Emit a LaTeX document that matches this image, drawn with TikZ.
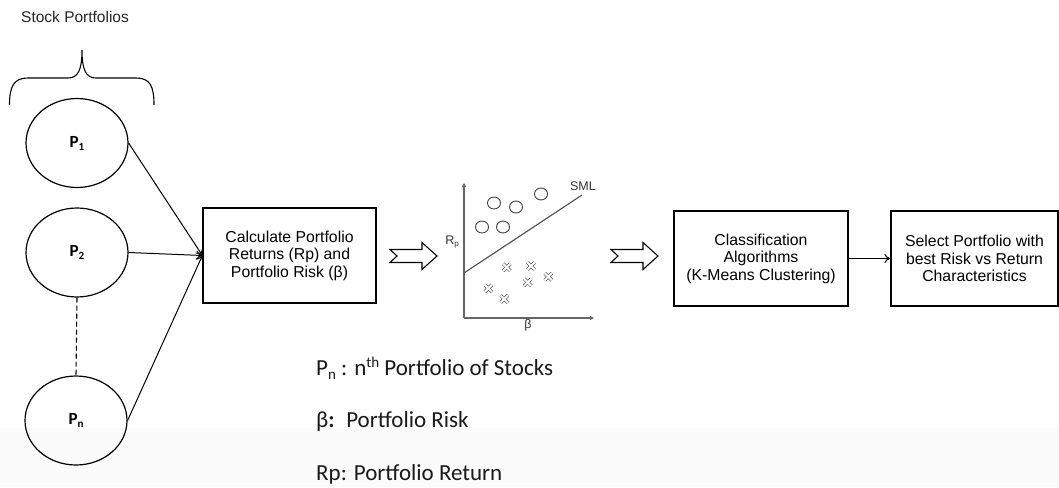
\documentclass[tikz,border=0pt]{standalone}
\usepackage{fontspec}
\setmainfont{Liberation Sans}
\newfontfamily\legendfont{Carlito}
\usetikzlibrary{shapes.geometric,arrows.meta}

\definecolor{bandgrey}{RGB}{251,251,251}

\tikzset{
  portfolio/.style={draw, ellipse, line width=1.2pt, inner sep=0pt,
    minimum width=102pt, minimum height=89pt,
    font=\legendfont\bfseries\fontsize{17}{17}\selectfont},
  stagebox/.style={draw, rectangle, line width=1.2pt, align=center,
    minimum height=95pt, font=\fontsize{15.8}{17.5}\selectfont},
  feed/.style={line width=1pt, -{To[length=6pt,width=9pt]}},
  axisline/.style={draw=black!60, line width=1.1pt,
    -{Triangle[length=4pt,width=4pt]}},
  hollowarrow/.pic={
    \draw[line width=1.1pt, line join=miter]
      (0,-6.5) -- (32,-6.5) -- (32,-13.5) -- (47,0) -- (32,13.5)
      -- (32,6.5) -- (0,6.5) -- (7,0) -- cycle;
  },
  crossmark/.pic={
    \draw[black!65, double=white, double distance=2pt, line width=0.7pt]
      (-3.6,-3.6) -- (3.6,3.6) (-3.6,3.6) -- (3.6,-3.6);
  },
  dot/.style={draw=black!75, ellipse, line width=0.9pt,
    minimum width=13pt, minimum height=12pt, inner sep=0pt},
  legend/.style={anchor=base west, inner sep=0pt,
    font=\legendfont\fontsize{23}{23}\selectfont, text=black!90},
}

\begin{document}
\begin{tikzpicture}[x=1pt, y=-1pt]
\useasboundingbox (0,0) rectangle (1059,487);
% faint grey band along the lower edge
\fill[bandgrey] (0,428) rectangle (1059,487);

% group heading and brace
\node[anchor=base west, inner sep=0pt, font=\fontsize{15.5}{18}\selectfont,
  text=black!85] (heading) at (21,22.7) {Stock Portfolios};
\draw[line width=1.1pt]
  (9.5,105) .. controls (9.5,86) and (14,78) .. (28,78) -- (68,78)
  .. controls (78,78) and (82,70) .. (82,50)
  .. controls (82,70) and (86,78) .. (96,78) -- (136,78)
  .. controls (150,78) and (154,86) .. (154,105);

% portfolios
\node[portfolio] (p1) at (77,143) {P\raisebox{-3pt}{\fontsize{11}{11}\selectfont 1}};
\node[portfolio] (p2) at (77,252.5) {P\raisebox{-3pt}{\fontsize{11}{11}\selectfont 2}};
\node[portfolio] (pn) at (76,420.5) {P\raisebox{-3pt}{\fontsize{11}{11}\selectfont n}};
\draw[line width=1.1pt, dash pattern=on 5pt off 3pt] (p2.south) -- (pn.north);

% processing stages
\node[stagebox, minimum width=173pt] (calc) at (289.5,255.5)
  {Calculate Portfolio\\Returns (Rp) and\\Portfolio Risk (β)};
\node[stagebox, minimum width=174pt] (classify) at (761,258.5)
  {Classification\\Algorithms\\(K-Means Clustering)};
\node[stagebox, minimum width=167pt] (select) at (974.5,258.5)
  {Select Portfolio with\\best Risk vs Return\\Characteristics};

\draw[feed] (p1.east) -- (calc.west);
\draw[feed] (p2.east) -- (calc.west);
\draw[feed] (pn.east) -- (calc.west);
\draw[feed] (classify.east) -- (select.west);

% hollow block arrows
\pic at (390,256) {hollowarrow};
\pic at (611,256) {hollowarrow};

% risk-return chart
\coordinate (origin) at (464,318);
\coordinate (ytop) at (464,183);
\coordinate (xend) at (594,318);
\coordinate (smlstart) at (464,273);
\coordinate (smlend) at (582,195);
\draw[axisline] (origin) -- (ytop);
\draw[axisline] (origin) -- (xend);
\draw[black!70, line width=1.1pt] (smlstart) -- (smlend);
\node[font=\fontsize{12.5}{12.5}\selectfont, text=black!80] (sml) at (583,186.5) {SML};
\node[font=\fontsize{12.5}{12.5}\selectfont, text=black!80] (rp) at (452,242)
  {R\raisebox{-2.5pt}{\fontsize{8}{8}\selectfont p}};
\node[font=\fontsize{12.5}{12.5}\selectfont, text=black!80] (beta) at (528,325.5) {β};

\node[dot] (c1) at (482,227) {};
\node[dot] (c2) at (503,227) {};
\node[dot] (c3) at (494,203) {};
\node[dot] (c4) at (516,207) {};
\node[dot] (c5) at (541,194) {};

\pic at (506.7,267.3) {crossmark};
\pic at (531,266) {crossmark};
\pic at (548.3,276.7) {crossmark};
\pic at (527.7,282.3) {crossmark};
\pic at (488.3,288.3) {crossmark};
\pic at (504.3,299) {crossmark};

% legend
\node[legend] (leg1) at (316,375)
  {P\raisebox{-4.5pt}{\fontsize{15}{15}\selectfont n} : n\raisebox{8pt}{\fontsize{15}{15}\selectfont th} Portfolio of Stocks};
\node[legend] (leg2) at (316,427.3) {β\textbf{:}\enspace Portfolio Risk};
\node[legend] (leg3) at (316,480) {Rp: Portfolio Return};
\end{tikzpicture}
\end{document}
